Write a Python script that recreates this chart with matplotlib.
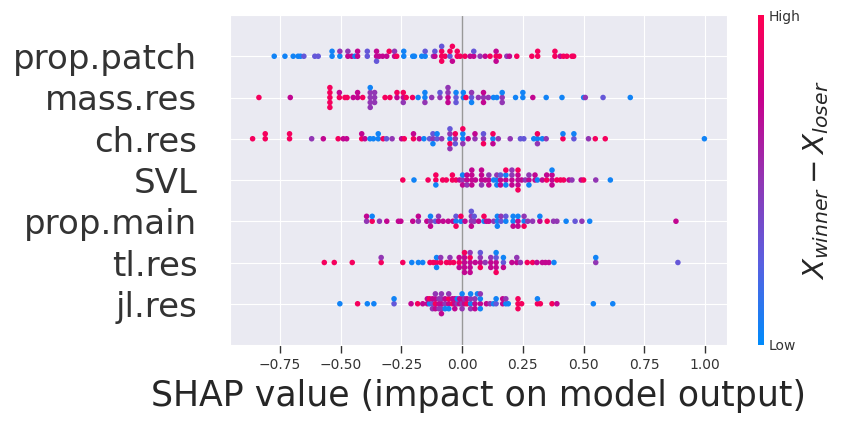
import numpy as np
import matplotlib
matplotlib.use("Agg")
import matplotlib.pyplot as plt
import seaborn as sns
from matplotlib.colors import LinearSegmentedColormap

# feature value levels (normalised, 0 = low, 1 = high)
B, V, P, M, R = 0.05, 0.3, 0.5, 0.72, 0.95

features = ['prop.patch', 'mass.res', 'ch.res', 'SVL', 'prop.main', 'tl.res', 'jl.res']

# (shap value, feature value) for every sample
prop_patch = [
    (-0.773, B), (-0.729, B), (-0.695, B), (-0.675, B), (-0.665, B), (-0.651, V), (-0.606, V), (-0.592, V),
    (-0.535, B), (-0.535, B), (-0.503, B), (-0.503, P), (-0.47, M), (-0.47, P), (-0.454, M), (-0.441, B),
    (-0.43, M), (-0.43, M), (-0.39, V), (-0.39, V), (-0.352, M), (-0.352, M), (-0.352, V), (-0.341, M),
    (-0.327, M), (-0.31, M), (-0.3, R), (-0.278, M), (-0.278, P), (-0.269, R), (-0.24, B), (-0.24, B),
    (-0.203, B), (-0.196, B), (-0.166, B), (-0.152, B), (-0.152, V), (-0.118, P), (-0.112, M), (-0.112, V),
    (-0.084, R), (-0.084, R), (-0.084, R), (-0.084, V), (-0.07, R), (-0.05, V), (-0.05, R), (-0.04, M),
    (-0.04, R), (-0.02, R), (-0.02, R), (-0.008, R), (0.012, R), (0.033, M), (0.048, M), (0.048, V),
    (0.074, P), (0.095, M), (0.115, R), (0.14, R), (0.14, M), (0.14, M), (0.154, R), (0.184, P),
    (0.195, M), (0.225, R), (0.287, R), (0.311, R), (0.311, R), (0.382, R), (0.382, R), (0.404, M),
    (0.417, R), (0.431, R), (0.452, R), (0.459, R),
]
mass_res = [
    (-0.836, R), (-0.707, M), (-0.544, R), (-0.544, R), (-0.544, R), (-0.544, R), (-0.544, R),
    (-0.505, R), (-0.505, M), (-0.482, R), (-0.473, R), (-0.448, M), (-0.43, M), (-0.43, M), (-0.409, R),
    (-0.378, P), (-0.378, P), (-0.378, P), (-0.378, B), (-0.378, P), (-0.36, P), (-0.36, P), (-0.36, P),
    (-0.317, R), (-0.297, R), (-0.268, M), (-0.268, R), (-0.242, M), (-0.242, R), (-0.242, P), (-0.23, R),
    (-0.204, R), (-0.181, B), (-0.153, B), (-0.153, B), (-0.153, P), (-0.125, P), (-0.091, P), (-0.091, V),
    (-0.058, M), (-0.058, P), (-0.058, M), (-0.058, P), (-0.025, V), (-0.025, B), (-0.025, V),
    (0.005, B), (0.005, B), (0.016, R), (0.039, V), (0.039, P), (0.039, B), (0.067, P), (0.088, P),
    (0.088, M), (0.088, M), (0.108, P), (0.129, B), (0.143, B), (0.165, P), (0.165, B), (0.165, P),
    (0.22, B), (0.25, B), (0.25, B), (0.291, M), (0.346, B), (0.411, B), (0.50, B), (0.507, P),
    (0.58, V), (0.692, B),
]
ch_res = [
    (-0.862, R), (-0.81, R), (-0.81, R), (-0.71, R), (-0.71, R), (-0.619, P), (-0.571, M), (-0.51, R),
    (-0.489, M), (-0.475, M), (-0.413, R), (-0.413, M), (-0.40, M), (-0.379, B), (-0.365, B), (-0.345, B),
    (-0.345, B), (-0.325, R), (-0.311, V), (-0.288, P), (-0.249, M), (-0.238, R), (-0.20, R), (-0.20, M),
    (-0.176, M), (-0.157, B), (-0.134, V), (-0.12, P), (-0.12, V), (-0.12, B), (-0.103, V), (-0.103, B),
    (-0.084, P), (-0.05, B), (-0.05, P), (-0.05, R), (-0.05, V), (-0.05, P), (-0.028, P), (-0.028, R),
    (-0.028, V), (0.003, B), (0.003, B), (0.003, P), (0.003, R), (0.025, M), (0.053, P), (0.053, M),
    (0.088, P), (0.088, V), (0.088, R), (0.127, B), (0.127, R), (0.127, M), (0.149, P), (0.198, P),
    (0.24, V), (0.254, V), (0.295, B), (0.31, B), (0.31, R), (0.31, P), (0.33, B), (0.346, P),
    (0.415, R), (0.415, B), (0.46, V), (0.46, B), (0.52, P), (0.548, R), (0.589, R), (0.997, B),
]
svl = [
    (-0.244, R), (-0.198, B), (-0.14, R), (-0.108, R), (-0.108, R), (-0.108, B), (-0.08, R), (-0.065, R),
    (-0.04, R), (-0.04, R), (-0.025, R), (-0.01, M), (0.002, P), (0.002, B), (0.002, M), (0.02, M),
    (0.02, M), (0.02, P), (0.04, M), (0.04, M), (0.04, M), (0.04, M), (0.055, M), (0.08, M), (0.08, M),
    (0.08, P), (0.08, M), (0.095, M), (0.11, M), (0.11, P), (0.11, M), (0.13, B), (0.143, B), (0.143, P),
    (0.143, B), (0.158, M), (0.158, V), (0.158, M), (0.18, M), (0.18, B), (0.18, B), (0.18, R),
    (0.205, M), (0.205, P), (0.205, M), (0.205, P), (0.23, M), (0.23, M), (0.23, M), (0.23, R), (0.23, R),
    (0.245, M), (0.26, P), (0.275, M), (0.275, P), (0.275, B), (0.3, M), (0.3, M), (0.31, B), (0.33, M),
    (0.348, R), (0.348, M), (0.37, M), (0.37, M), (0.37, M), (0.37, B), (0.39, R), (0.405, R),
    (0.418, R), (0.44, M), (0.452, P), (0.49, M), (0.5, R), (0.55, P), (0.61, B),
]
prop_main = [
    (-0.393, P), (-0.393, M), (-0.37, R), (-0.37, B), (-0.34, P), (-0.31, M), (-0.262, M), (-0.252, M),
    (-0.203, M), (-0.18, P), (-0.18, M), (-0.145, M), (-0.13, P), (-0.13, B), (-0.13, M), (-0.11, V),
    (-0.097, M), (-0.097, P), (-0.078, M), (-0.057, M), (-0.038, M), (-0.025, B), (-0.025, V), (-0.025, R),
    (-0.005, B), (-0.005, R), (0.012, M), (0.038, P), (0.038, P), (0.038, M), (0.038, V), (0.05, P),
    (0.05, V), (0.068, M), (0.09, B), (0.09, R), (0.1, M), (0.11, M), (0.13, P), (0.145, B), (0.145, B),
    (0.145, B), (0.16, V), (0.16, P), (0.18, B), (0.18, V), (0.21, B), (0.21, B), (0.21, M), (0.23, M),
    (0.23, B), (0.23, M), (0.255, B), (0.255, P), (0.255, R), (0.27, P), (0.29, P), (0.32, M), (0.32, B),
    (0.35, R), (0.376, P), (0.39, P), (0.428, B), (0.465, V), (0.493, P), (0.525, B), (0.88, M),
]
tl_res = [
    (-0.567, R), (-0.526, R), (-0.452, R), (-0.333, R), (-0.333, P), (-0.244, R), (-0.207, B), (-0.18, B),
    (-0.162, B), (-0.132, R), (-0.118, R), (-0.105, R), (-0.105, B), (-0.105, B), (-0.088, R), (-0.088, P),
    (-0.064, R), (-0.05, R), (-0.05, P), (-0.035, R), (-0.012, R), (-0.012, M), (-0.012, M), (0.01, M),
    (0.01, M), (0.01, M), (0.01, R), (0.01, M), (0.033, M), (0.033, R), (0.033, M), (0.033, P), (0.033, M),
    (0.054, M), (0.075, M), (0.075, P), (0.075, R), (0.075, V), (0.095, P), (0.118, M), (0.118, P),
    (0.118, M), (0.14, M), (0.14, V), (0.14, M), (0.14, B), (0.14, R), (0.17, V), (0.17, B), (0.17, M),
    (0.205, M), (0.225, M), (0.225, P), (0.24, P), (0.268, R), (0.29, R), (0.308, M), (0.33, M),
    (0.343, M), (0.357, M), (0.378, B), (0.55, P), (0.55, B), (0.888, V),
]
jl_res = [
    (-0.503, B), (-0.43, R), (-0.39, B), (-0.363, B), (-0.28, V), (-0.28, B), (-0.21, M), (-0.183, R),
    (-0.162, M), (-0.143, M), (-0.143, M), (-0.134, B), (-0.134, R), (-0.122, V), (-0.122, M), (-0.122, P),
    (-0.11, R), (-0.11, M), (-0.11, M), (-0.11, P), (-0.095, M), (-0.095, P), (-0.095, P), (-0.085, M),
    (-0.085, P), (-0.085, P), (-0.085, P), (-0.085, M), (-0.07, P), (-0.07, M), (-0.07, B), (-0.055, M),
    (-0.055, R), (-0.055, B), (-0.055, P), (-0.04, R), (-0.04, M), (-0.03, M), (-0.03, M), (-0.03, M),
    (-0.02, P), (-0.02, B), (-0.01, M), (-0.01, M), (0.0, P), (0.0, M), (0.0, P), (0.0, B), (0.01, M),
    (0.01, P), (0.02, R), (0.02, M), (0.035, B), (0.035, P), (0.035, P), (0.035, B), (0.053, M),
    (0.053, P), (0.053, M), (0.063, B), (0.075, M), (0.075, B), (0.075, B), (0.075, P), (0.1, M),
    (0.115, P), (0.129, B), (0.14, V), (0.14, B), (0.167, M), (0.167, M), (0.18, B), (0.18, P), (0.19, B),
    (0.23, R), (0.23, R), (0.23, R), (0.245, R), (0.31, R), (0.31, B), (0.322, R), (0.37, R), (0.39, M),
    (0.54, B), (0.62, B),
]

rows = [prop_patch, mass_res, ch_res, svl, prop_main, tl_res, jl_res]

red_blue = LinearSegmentedColormap.from_list(
    'red_blue', ['#008bfb', '#5a5fe0', '#9236b4', '#c8008c', '#ff0052'])


def swarm_offsets(shaps, row_height=0.4, nbins=100):
    # same stacking as the shap beeswarm
    quant = np.round(nbins * (shaps - shaps.min()) / (shaps.max() - shaps.min() + 1e-8))
    inds = np.argsort(quant, kind='stable')
    ys = np.zeros(len(shaps))
    layer = 0
    last_bin = -1
    for ind in inds:
        if quant[ind] != last_bin:
            layer = 0
        ys[ind] = np.ceil(layer / 2) * ((layer % 2) * 2 - 1)
        layer += 1
        last_bin = quant[ind]
    ys *= 0.9 * (row_height / np.max(ys + 1))
    return ys


sns.set_style('darkgrid')
fig = plt.figure(figsize=(8.43, 4.24), dpi=100)
ax = fig.add_axes([230 / 843, 1 - 345 / 424, 497 / 843, 330 / 424])

n = len(features)
for k, data in enumerate(rows):
    pos = n - 1 - k
    arr = np.array(data)
    shaps, fvals = arr[:, 0], arr[:, 1]
    ys = swarm_offsets(shaps)
    ax.scatter(shaps, pos + ys, c=fvals, cmap=red_blue, vmin=0, vmax=1,
               s=16, linewidth=0, alpha=1, zorder=3)

ax.axvline(0, color='#999999', lw=1, zorder=1)
ax.set_ylim(-1, n)
ax.set_yticks(range(n))
ax.set_yticklabels(features[::-1], fontsize=24.5, color='#333333')
ax.tick_params(axis='y', length=0, pad=23.5)
ax.set_xticks([-0.75, -0.5, -0.25, 0, 0.25, 0.5, 0.75, 1.0])
ax.set_xlim(-0.955, 1.09)
ax.tick_params(axis='x', bottom=True, length=5.5, width=1, color='#333333',
               labelsize=10, labelcolor='#333333', pad=4)
ax.set_xlabel('SHAP value (impact on model output)', fontsize=25, color='#262626', labelpad=5)

cax = fig.add_axes([758 / 843, 1 - 345 / 424, 6 / 843, 330 / 424])
sm = plt.cm.ScalarMappable(cmap=red_blue, norm=plt.Normalize(0, 1))
cb = fig.colorbar(sm, cax=cax, ticks=[0, 1])
cb.set_ticklabels(['Low', 'High'])
cb.ax.tick_params(labelsize=10, length=0, labelcolor='#333333')
cb.outline.set_visible(False)
cb.set_label('$X_{winner} - X_{loser}$', size=21, labelpad=0, color='#262626')

fig.savefig('out.png', dpi=100)
